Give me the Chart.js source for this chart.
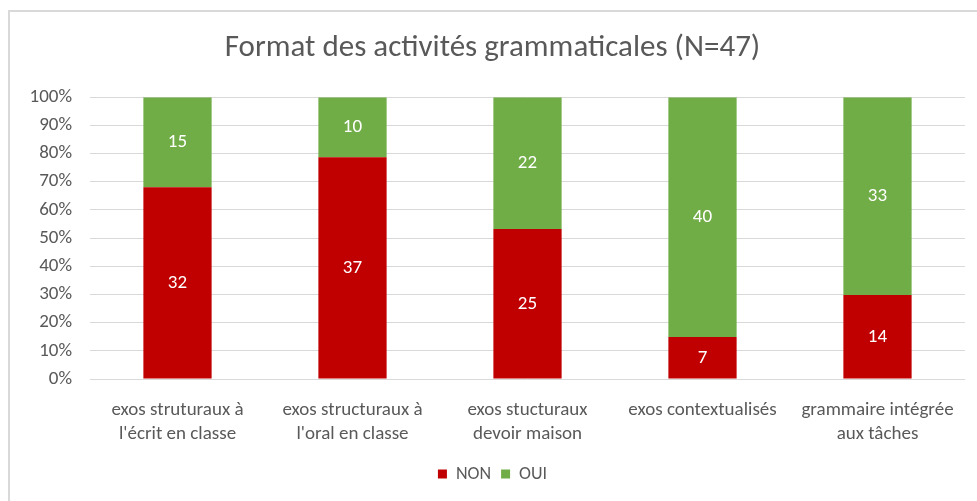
<!DOCTYPE html>
<html>
<head>
<meta charset="utf-8">
<script src="https://cdn.jsdelivr.net/npm/chart.js@4/dist/chart.umd.min.js"></script>
<style>
  html, body { margin: 0; padding: 0; background: #fff; }
  #wrap { position: relative; width: 977px; height: 501px; overflow: hidden; }
  #frame { position: absolute; left: 8px; top: 10px; width: 990px; height: 520px; border: 2px solid #d9d9d9; box-sizing: border-box; }
  #chart { position: absolute; left: 0; top: 0; }
</style>
</head>
<body>
<div id="wrap">
  <div id="frame"></div>
  <canvas id="chart" width="977" height="501"></canvas>
</div>
<script>
const categories = [
  ['exos struturaux à', "l'écrit en classe"],
  ['exos structuraux à', "l'oral en classe"],
  ['exos stucturaux', 'devoir maison'],
  ['exos contextualisés'],
  ['grammaire intégrée', 'aux tâches']
];
const nonCounts = [32, 37, 25, 7, 14];
const ouiCounts = [15, 10, 22, 40, 33];
const yTicks = [0, 10, 20, 30, 40, 50, 60, 70, 80, 90, 100];

const FONT = "Carlito, 'Liberation Sans Narrow', 'DejaVu Sans Condensed', 'Open Sans', sans-serif";
const GREY = '#595959';

const totals = nonCounts.map((v, i) => v + ouiCounts[i]);
const pct = arr => arr.map((v, i) => v / totals[i] * 100);

// draws the raw counts inside each stacked segment
const countLabels = {
  id: 'countLabels',
  afterDatasetsDraw(chart) {
    const ctx = chart.ctx;
    ctx.save();
    ctx.fillStyle = '#ffffff';
    ctx.font = '19px ' + FONT;
    ctx.textAlign = 'center';
    ctx.textBaseline = 'middle';
    chart.data.datasets.forEach((ds, di) => {
      const meta = chart.getDatasetMeta(di);
      meta.data.forEach((bar, i) => {
        const cy = (bar.y + bar.base) / 2;
        ctx.fillText(String(ds.counts[i]), bar.x, cy);
      });
    });
    ctx.restore();
  }
};

new Chart(document.getElementById('chart'), {
  type: 'bar',
  data: {
    labels: categories,
    datasets: [
      { label: 'NON', data: pct(nonCounts), counts: nonCounts, backgroundColor: '#c00000' },
      { label: 'OUI', data: pct(ouiCounts), counts: ouiCounts, backgroundColor: '#70ad47' }
    ]
  },
  options: {
    responsive: false,
    animation: false,
    events: [],
    layout: { padding: { left: 20, right: 12, top: 0, bottom: 8 } },
    datasets: { bar: { categoryPercentage: 1, barPercentage: 0.39 } },
    plugins: {
      title: {
        display: true,
        text: 'Format des activités grammaticales (N=47)',
        color: GREY,
        font: { family: FONT, size: 31, weight: 'normal' },
        padding: { top: 30, bottom: 30 }
      },
      legend: {
        position: 'bottom',
        labels: {
          color: GREY,
          boxWidth: 9,
          boxHeight: 9,
          padding: 10,
          font: { family: FONT, size: 18 }
        }
      },
      tooltip: { enabled: false }
    },
    scales: {
      x: {
        stacked: true,
        grid: { display: false },
        border: { display: false },
        ticks: {
          color: GREY,
          padding: 11,
          maxRotation: 0,
          autoSkip: false,
          font: { family: FONT, size: 19, lineHeight: 1.26 }
        },
        afterFit(scale) { scale.height = 76; }
      },
      y: {
        stacked: true,
        min: 0,
        max: 100,
        afterBuildTicks(scale) { scale.ticks = yTicks.map(v => ({ value: v })); },
        grid: { color: '#d9d9d9', lineWidth: 1, drawTicks: false },
        border: { display: false },
        ticks: {
          color: GREY,
          padding: 18,
          font: { family: FONT, size: 19 },
          callback: v => v + '%'
        },
        afterFit(scale) { scale.width = 70; }
      }
    }
  },
  plugins: [countLabels]
});
</script>
</body>
</html>
